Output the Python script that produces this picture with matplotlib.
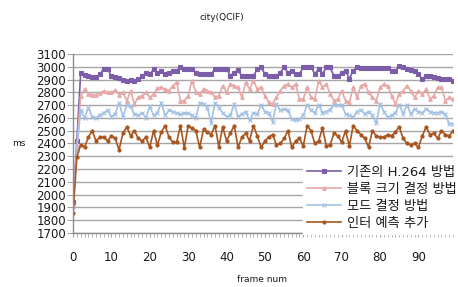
import matplotlib
matplotlib.use("Agg")
import matplotlib.pyplot as plt
import numpy as np

# frame number 0..99
frames = list(range(100))

# 기존의 H.264 방법
h264 = [1940, 2420, 2950, 2935, 2925, 2920, 2920, 2940, 2985, 2985,
        2925, 2920, 2910, 2895, 2890, 2895, 2890, 2905, 2925, 2955,
        2940, 2980, 2955, 2970, 2945, 2950, 2970, 2970, 2995, 2985,
        2985, 2985, 2955, 2940, 2940, 2940, 2940, 2985, 2985, 2985,
        2985, 2930, 2955, 2975, 2925, 2925, 2925, 2925, 2985, 2995,
        2945, 2925, 2925, 2925, 2955, 2995, 2955, 2970, 2945, 2945,
        2995, 2995, 2995, 2945, 2980, 2945, 2995, 2995, 2925, 2925,
        2955, 2970, 2905, 2970, 2995, 2990, 2990, 2990, 2990, 2990,
        2990, 2990, 2990, 2970, 2970, 3005, 2995, 2985, 2975, 2965,
        2940, 2905, 2930, 2925, 2920, 2915, 2905, 2905, 2905, 2890]

# 블록 크기 결정 방법
block = [1920, 2380, 2770, 2825, 2790, 2780, 2780, 2795, 2810, 2800,
         2800, 2815, 2780, 2800, 2735, 2810, 2710, 2760, 2775, 2800,
         2760, 2785, 2833, 2839, 2826, 2813, 2852, 2878, 2735, 2735,
         2775, 2891, 2800, 2787, 2826, 2813, 2800, 2761, 2774, 2852,
         2800, 2865, 2852, 2839, 2761, 2878, 2826, 2891, 2826, 2839,
         2774, 2722, 2709, 2761, 2813, 2852, 2865, 2839, 2865, 2748,
         2748, 2839, 2761, 2748, 2891, 2839, 2865, 2787, 2735, 2748,
         2813, 2735, 2722, 2839, 2761, 2852, 2865, 2800, 2761, 2735,
         2839, 2865, 2852, 2774, 2709, 2787, 2813, 2852, 2813, 2761,
         2813, 2787, 2826, 2748, 2774, 2839, 2839, 2735, 2761, 2748]

# 모드 결정 방법
mode = [1900, 2350, 2660, 2600, 2680, 2610, 2600, 2625, 2640, 2660,
        2610, 2630, 2720, 2610, 2700, 2690, 2630, 2620, 2640, 2600,
        2690, 2620, 2640, 2720, 2620, 2660, 2650, 2640, 2630, 2640,
        2635, 2620, 2600, 2720, 2710, 2680, 2560, 2720, 2680, 2640,
        2610, 2620, 2710, 2610, 2630, 2650, 2580, 2640, 2630, 2700,
        2650, 2640, 2570, 2710, 2660, 2670, 2660, 2590, 2580, 2590,
        2620, 2705, 2660, 2640, 2705, 2640, 2650, 2665, 2705, 2700,
        2705, 2630, 2620, 2605, 2650, 2665, 2630, 2650, 2620, 2560,
        2710, 2650, 2605, 2620, 2640, 2705, 2630, 2705, 2630, 2670,
        2650, 2640, 2670, 2650, 2640, 2640, 2650, 2630, 2555, 2555]

# 인터 예측 추가
inter = [1853, 2293, 2390, 2370, 2450, 2500, 2420, 2450, 2450, 2420,
         2460, 2440, 2350, 2480, 2530, 2460, 2500, 2440, 2420, 2450,
         2370, 2500, 2385, 2490, 2540, 2450, 2410, 2410, 2540, 2365,
         2540, 2520, 2500, 2370, 2510, 2490, 2470, 2540, 2375, 2530,
         2420, 2480, 2540, 2370, 2450, 2480, 2420, 2540, 2460, 2370,
         2420, 2450, 2470, 2390, 2400, 2440, 2500, 2370, 2420, 2440,
         2380, 2540, 2500, 2400, 2420, 2520, 2380, 2390, 2480, 2460,
         2410, 2500, 2380, 2540, 2500, 2470, 2440, 2370, 2500, 2460,
         2450, 2450, 2470, 2460, 2490, 2530, 2440, 2400, 2390, 2400,
         2370, 2460, 2530, 2470, 2480, 2440, 2500, 2470, 2460, 2500]

labels = ["기존의 H.264 방법", "블록 크기 결정 방법", "모드 결정 방법", "인터 예측 추가"]
colors = ["#7b5ea7", "#e8a8a8", "#a3c1e4", "#a9561e"]
markers = ["s", "^", "x", "o"]
msizes = [2.6, 2.6, 2.6, 2.2]

fig = plt.figure(figsize=(4.58, 2.87), dpi=100)
ax = fig.add_axes([73 / 458, 1 - 233 / 287, 380 / 458, 179 / 287])

for ys, lab, c, m, ms in zip([h264, block, mode, inter], labels, colors, markers, msizes):
    ax.plot(frames, ys, color=c, lw=1.2, marker=m, ms=ms, mew=0.8, label=lab)

ax.set_xlim(0, 99)
ax.set_ylim(1700, 3100)
ax.set_yticks(np.arange(1700, 3101, 100))
ax.set_xticks(np.arange(0, 91, 10))
ax.set_xticks(np.arange(0, 100, 1), minor=True)
ax.yaxis.grid(True, color="#a6a6a6", lw=1.0)
ax.set_axisbelow(True)

for s in ["top", "right"]:
    ax.spines[s].set_visible(False)
for s in ["left", "bottom"]:
    ax.spines[s].set_color("#8c8c8c")
    ax.spines[s].set_linewidth(1.0)

ax.tick_params(axis="y", length=4, color="#a6a6a6", labelsize=8.5, pad=1,
               labelcolor="#1a1a1a")
ax.tick_params(axis="x", which="both", length=3, color="#a6a6a6", labelsize=8.5,
               pad=10, labelcolor="#1a1a1a")

fig.text(222 / 458, 1 - 18 / 287, "city(QCIF)", fontsize=6.5, ha="center", va="center",
         color="#1a1a1a")
fig.text(12 / 458, 1 - 143 / 287, "ms", fontsize=6.5, ha="left", va="center",
         color="#1a1a1a")
fig.text(262 / 458, 1 - 280 / 287, "frame num", fontsize=6.5, ha="center", va="center",
         color="#1a1a1a")

leg = ax.legend(loc="upper left", bbox_to_anchor=(303 / 458, 1 - 162 / 287),
                bbox_transform=fig.transFigure, frameon=True, fancybox=False,
                edgecolor="white", facecolor="white", framealpha=1,
                borderpad=0.3, labelspacing=0.3, handlelength=2.6,
                handletextpad=0.4, borderaxespad=0,
                prop={"family": ["DejaVu Sans", "Noto Sans CJK KR"], "size": 9.5})
for t in leg.get_texts():
    t.set_color("#1a1a1a")

fig.savefig("out.png", dpi=100)
